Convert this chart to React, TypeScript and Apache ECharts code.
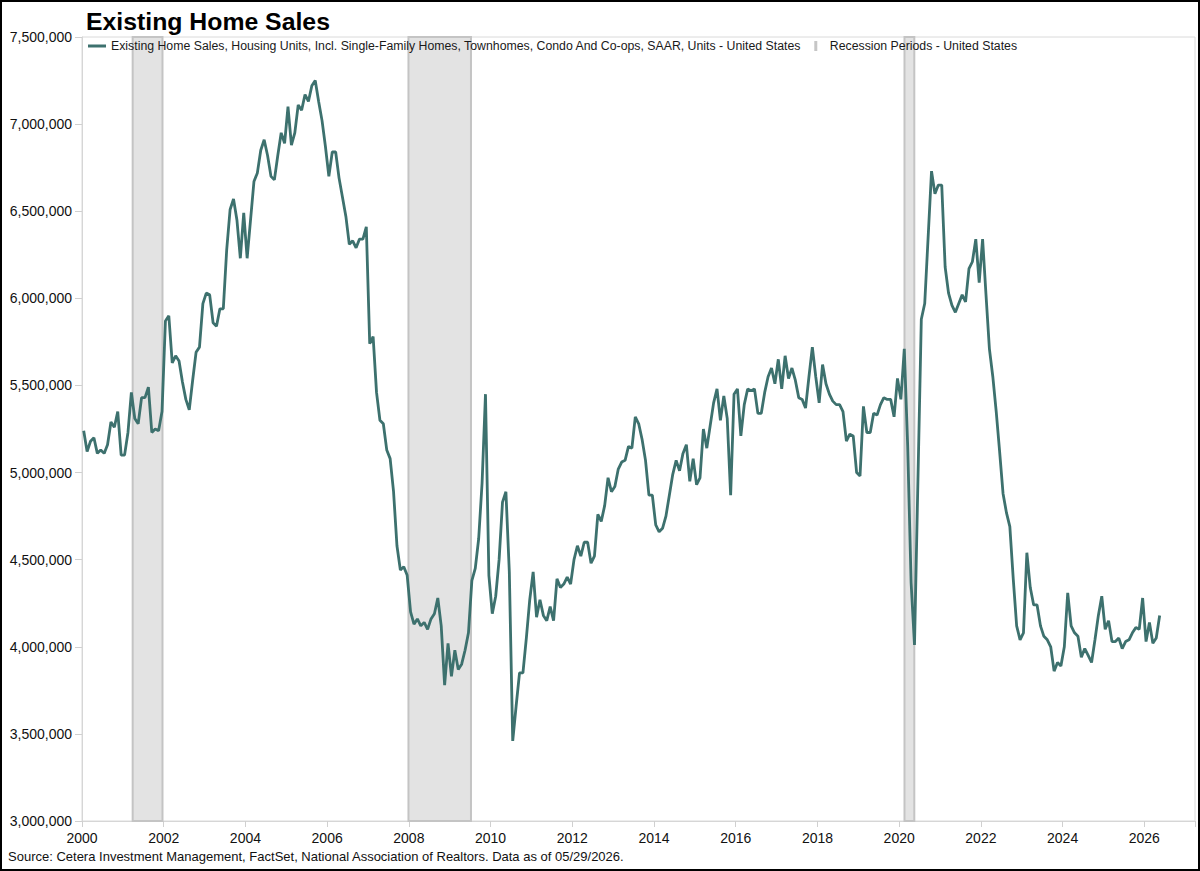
import React, { useEffect, useRef } from "react";
import * as echarts from "echarts";

// Existing home sales, SAAR, thousands of units, monthly from Jan 2000
const sales2000 = [5240, 5120, 5180, 5200, 5110, 5130, 5110, 5160, 5290, 5260, 5350, 5100];
const sales2001 = [5100, 5230, 5460, 5310, 5280, 5430, 5430, 5490, 5230, 5250, 5240, 5350];
const sales2002 = [5870, 5900, 5630, 5670, 5640, 5520, 5420, 5360, 5530, 5690, 5720, 5970];
const sales2003 = [6030, 6020, 5860, 5840, 5940, 5940, 6280, 6510, 6570, 6450, 6230, 6490];
const sales2004 = [6230, 6450, 6670, 6720, 6850, 6910, 6820, 6700, 6680, 6820, 6950, 6890];
const sales2005 = [7100, 6880, 6950, 7110, 7080, 7170, 7130, 7220, 7250, 7130, 7020, 6870];
const sales2006 = [6700, 6840, 6840, 6690, 6580, 6470, 6310, 6330, 6290, 6340, 6340, 6410];
const sales2007 = [5740, 5780, 5460, 5300, 5280, 5130, 5080, 4890, 4580, 4440, 4460, 4410];
const sales2008 = [4200, 4130, 4160, 4120, 4140, 4100, 4160, 4190, 4280, 4120, 3780, 4020];
const sales2009 = [3830, 3980, 3870, 3900, 3980, 4080, 4380, 4450, 4620, 4940, 5450, 4410];
const sales2010 = [4190, 4290, 4500, 4830, 4890, 4430, 3460, 3660, 3850, 3850, 4050, 4270];
const sales2011 = [4430, 4170, 4270, 4180, 4150, 4230, 4150, 4390, 4340, 4360, 4400, 4360];
const sales2012 = [4500, 4580, 4520, 4600, 4600, 4480, 4520, 4760, 4720, 4810, 4970, 4890];
const sales2013 = [4920, 5020, 5060, 5070, 5150, 5140, 5320, 5280, 5190, 5070, 4870, 4870];
const sales2014 = [4700, 4660, 4680, 4750, 4870, 4990, 5070, 5010, 5110, 5160, 4950, 5080];
const sales2015 = [4930, 4970, 5250, 5140, 5270, 5400, 5480, 5300, 5440, 5310, 4870, 5450];
const sales2016 = [5480, 5210, 5390, 5480, 5470, 5480, 5340, 5340, 5460, 5550, 5600, 5510];
const sales2017 = [5650, 5480, 5670, 5540, 5600, 5530, 5430, 5420, 5370, 5550, 5720, 5550];
const sales2018 = [5400, 5620, 5510, 5450, 5410, 5390, 5390, 5350, 5180, 5220, 5210, 5000];
const sales2019 = [4980, 5380, 5230, 5230, 5340, 5330, 5390, 5430, 5420, 5420, 5320, 5540];
const sales2020 = [5420, 5710, 5150, 4370, 4010, 4950, 5880, 5970, 6350, 6730, 6600, 6650];
const sales2021 = [6650, 6180, 6030, 5960, 5920, 5970, 6020, 5980, 6170, 6210, 6340, 6090];
const sales2022 = [6340, 6020, 5710, 5550, 5350, 5120, 4880, 4770, 4690, 4390, 4120, 4040];
const sales2023 = [4080, 4540, 4340, 4240, 4240, 4120, 4060, 4040, 4000, 3860, 3910, 3890];
const sales2024 = [4000, 4310, 4120, 4080, 4060, 3940, 3990, 3950, 3910, 4040, 4180, 4290];
const sales2025 = [4100, 4150, 4030, 4030, 4050, 3990, 4030, 4040, 4080, 4110, 4100, 4280];
const sales2026 = [4030, 4140, 4020, 4050, 4180];

const startYear = 2000;

// Recession periods (decimal years, start / end)
const recessionStarts = [2001.24, 2007.99, 2020.13];
const recessionEnds = [2001.97, 2009.52, 2020.37];

// Axis ticks
const yMin = 3000000;
const yMax = 7500000;
const yStep = 500000;
const xMin = 2000;
const xMax = 2027.24;
const xStep = 2;

const titleText = "Existing Home Sales";
const seriesName =
  "Existing Home Sales, Housing Units, Incl. Single-Family Homes, Townhomes, Condo And Co-ops, SAAR, Units - United States";
const recessionName = "Recession Periods - United States";
const sourceText =
  "Source: Cetera Investment Management, FactSet, National Association of Realtors. Data as of 05/29/2026.";

const FONT = '"Liberation Sans", Arial, Helvetica, sans-serif';
const LINE_COLOR = "#3d716e";

export default function App() {
  const ref = useRef<HTMLDivElement>(null);

  useEffect(() => {
    document.body.style.margin = "0";
    if (!ref.current) return;
    const chart = echarts.init(ref.current, undefined, { renderer: "svg" });

    const all = [
      ...sales2000, ...sales2001, ...sales2002, ...sales2003, ...sales2004,
      ...sales2005, ...sales2006, ...sales2007, ...sales2008, ...sales2009,
      ...sales2010, ...sales2011, ...sales2012, ...sales2013, ...sales2014,
      ...sales2015, ...sales2016, ...sales2017, ...sales2018, ...sales2019,
      ...sales2020, ...sales2021, ...sales2022, ...sales2023, ...sales2024,
      ...sales2025, ...sales2026,
    ];
    // each month placed at mid-month in decimal years
    const data = all.map((v, i) => [startYear + (i + 0.5) / 12, v * 1000]);

    const areas = recessionStarts.map((s, i) => [
      { xAxis: s },
      { xAxis: recessionEnds[i] },
    ]);

    chart.setOption({
      animation: false,
      backgroundColor: "#ffffff",
      textStyle: { fontFamily: FONT },
      title: {
        text: titleText,
        left: 81,
        top: 4,
        textStyle: {
          fontSize: 24.8,
          fontWeight: "bold",
          color: "#000",
          fontFamily: FONT,
        },
      },
      legend: {
        left: 83,
        top: 35,
        itemWidth: 18,
        itemHeight: 10,
        itemGap: 13,
        selectedMode: false,
        itemStyle: { borderWidth: 0 },
        textStyle: { fontSize: 12.3, color: "#1a1a1a", fontFamily: FONT },
        data: [
          { name: seriesName, icon: "path://M0,0H18V3H0Z" },
          { name: recessionName, icon: "path://M0,0H3V10H0Z" },
        ],
      },
      grid: {
        left: 82,
        top: 37,
        right: 5,
        bottom: 50,
        show: true,
        borderColor: "#dadada",
        borderWidth: 1,
      },
      xAxis: {
        type: "value",
        min: xMin,
        max: xMax,
        interval: xStep,
        axisLine: { show: true, lineStyle: { color: "#d6d6d6" } },
        axisTick: { show: true, length: 6, lineStyle: { color: "#d0d0d0" } },
        axisLabel: {
          margin: 10,
          fontSize: 14,
          color: "#111",
          fontFamily: FONT,
          formatter: (v: number) =>
            Math.abs(v - Math.round(v)) < 1e-6 && Math.round(v) % 2 === 0
              ? String(Math.round(v))
              : "",
        },
        splitLine: { show: false },
      },
      yAxis: {
        type: "value",
        min: yMin,
        max: yMax,
        interval: yStep,
        axisLine: { show: true, lineStyle: { color: "#d6d6d6" } },
        axisTick: { show: true, length: 7, lineStyle: { color: "#d0d0d0" } },
        axisLabel: {
          margin: 10,
          fontSize: 14,
          color: "#111",
          fontFamily: FONT,
          formatter: (v: number) => v.toLocaleString("en-US"),
        },
        splitLine: { show: false },
      },
      series: [
        {
          name: recessionName,
          type: "line",
          data: [],
          z: 1,
          itemStyle: { color: "#c6c6c6" },
          lineStyle: { color: "#c6c6c6" },
          markArea: {
            silent: true,
            itemStyle: {
              color: "#e3e3e3",
              borderColor: "#c4c4c4",
              borderWidth: 2,
            },
            data: areas,
          },
        },
        {
          name: seriesName,
          type: "line",
          data,
          z: 3,
          symbol: "none",
          showSymbol: false,
          lineStyle: { color: LINE_COLOR, width: 2.8 },
          itemStyle: { color: LINE_COLOR },
        },
      ],
      graphic: [
        {
          type: "text",
          left: 8,
          top: 850,
          style: {
            text: sourceText,
            fontSize: 13,
            fill: "#111",
            fontFamily: FONT,
          },
        },
        {
          type: "rect",
          shape: { x: 1, y: 1, width: 1198, height: 869 },
          style: { fill: "none", stroke: "#000", lineWidth: 2 },
          silent: true,
        },
      ],
    });

    return () => chart.dispose();
  }, []);

  return <div ref={ref} style={{ width: 1200, height: 871 }} />;
}
